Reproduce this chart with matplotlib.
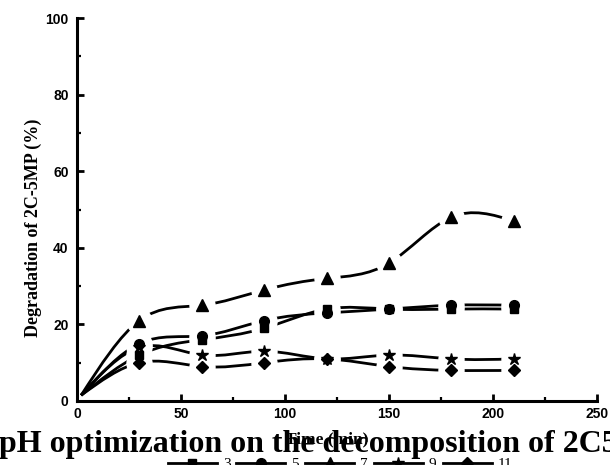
import numpy as np
import matplotlib
matplotlib.use("Agg")
import matplotlib.pyplot as plt
from matplotlib.path import Path
from matplotlib.patches import PathPatch
from matplotlib.lines import Line2D

# ---- data ----
time = [2, 30, 60, 90, 120, 150, 180, 210]
ph_labels = ["3", "5", "7", "9", "11"]
deg_ph3 = [1.5, 12, 16, 19, 24, 24, 24, 24]        # squares
deg_ph5 = [1.5, 15, 17, 21, 23, 24, 25, 25]        # circles
deg_ph7 = [1.5, 21, 25, 29, 32, 36, 48, 47]        # triangles
deg_ph9 = [1.5, 14, 12, 13, 11, 12, 11, 11]        # stars
deg_ph11 = [1.5, 10, 9, 10, 11, 9, 8, 8]           # diamonds
series = [deg_ph3, deg_ph5, deg_ph7, deg_ph9, deg_ph11]
markers = ["s", "o", "^", "*", "D"]
msizes = [6, 7, 8.5, 9, 6]

x_ticks = [0, 50, 100, 150, 200, 250]
y_ticks = [0, 20, 40, 60, 80, 100]

serif = ["Liberation Serif", "DejaVu Serif"]
sans = ["Liberation Sans", "DejaVu Sans"]


def spline_path(x, y):
    """Natural cubic spline through the data, expressed as Bezier segments."""
    x = np.asarray(x, float)
    y = np.asarray(y, float)
    n = len(x)
    h = np.diff(x)
    A = np.zeros((n, n))
    b = np.zeros(n)
    A[0, 0] = 1
    A[-1, -1] = 1
    for i in range(1, n - 1):
        A[i, i - 1] = h[i - 1]
        A[i, i] = 2 * (h[i - 1] + h[i])
        A[i, i + 1] = h[i]
        b[i] = 6 * ((y[i + 1] - y[i]) / h[i] - (y[i] - y[i - 1]) / h[i - 1])
    M = np.linalg.solve(A, b)
    m = np.zeros(n)
    for i in range(n - 1):
        m[i] = (y[i + 1] - y[i]) / h[i] - h[i] * (2 * M[i] + M[i + 1]) / 6
    m[-1] = (y[-1] - y[-2]) / h[-1] + h[-1] * (M[-2] + 2 * M[-1]) / 6
    verts = [(x[0], y[0])]
    codes = [Path.MOVETO]
    for i in range(n - 1):
        verts += [(x[i] + h[i] / 3, y[i] + h[i] / 3 * m[i]),
                  (x[i + 1] - h[i] / 3, y[i + 1] - h[i] / 3 * m[i + 1]),
                  (x[i + 1], y[i + 1])]
        codes += [Path.CURVE4] * 3
    return Path(verts, codes)


fig = plt.figure(figsize=(6.1, 4.65), dpi=100)
ax = fig.add_axes([77 / 610, 1 - 401 / 465, 520 / 610, 383 / 465])

for ys in series:
    patch = PathPatch(spline_path(time, ys), facecolor="none", edgecolor="black",
                      lw=2.0, zorder=2, capstyle="butt")
    ax.add_patch(patch)
for ys in series:
    # white halo creating the gap around each marker
    ax.plot(time[1:], ys[1:], linestyle="none", marker="o", ms=19,
            mfc="white", mec="white", mew=0, zorder=5)
for ys, mk, ms in zip(series, markers, msizes):
    ax.plot(time[1:], ys[1:], linestyle="none", marker=mk, ms=ms,
            mfc="black", mec="black", zorder=6)

ax.set_xlim(0, 250)
ax.set_ylim(0, 100)
ax.set_xticks(x_ticks)
ax.set_yticks(y_ticks)
ax.set_xticks([25, 75, 125, 175, 225], minor=True)
ax.set_yticks([10, 30, 50, 70, 90], minor=True)
for s in ["top", "right"]:
    ax.spines[s].set_visible(False)
for s in ["left", "bottom"]:
    ax.spines[s].set_linewidth(2.2)
ax.tick_params(which="major", direction="in", length=5, width=2)
ax.tick_params(which="minor", direction="in", length=3, width=1.6)
ax.tick_params(axis="x", pad=4)
ax.tick_params(axis="y", pad=6)
for lab in ax.get_xticklabels() + ax.get_yticklabels():
    lab.set_fontfamily(sans)
    lab.set_fontweight("bold")
    lab.set_fontsize(10)

fig.text(33 / 610, 1 - 228 / 465, "Degradation of 2C-5MP (%)", rotation=90,
         ha="center", va="center", fontsize=13, fontweight="bold", family=serif)
fig.text(327 / 610, 1 - 443 / 465, "Time (min)", ha="center", va="baseline",
         fontsize=12.5, fontweight="bold", family=serif)
fig.text(-1 / 610, 1 - 452 / 465, "pH optimization on the decomposition of 2C5MP",
         ha="left", va="baseline", fontsize=23, fontweight="bold", family=serif)

handles = [Line2D([], [], color="black", lw=2, marker=mk, ms=ms, mfc="black", mec="black")
           for mk, ms in zip(markers, msizes)]
fig.legend(handles, ph_labels, loc="center", bbox_to_anchor=(340 / 610, 1 - 464 / 465),
           ncol=5, frameon=False, prop={"family": serif, "size": 11},
           handlelength=3.2, handletextpad=0.4, columnspacing=0.4, borderpad=0,
           numpoints=1)

fig.savefig("out.png", dpi=100)
